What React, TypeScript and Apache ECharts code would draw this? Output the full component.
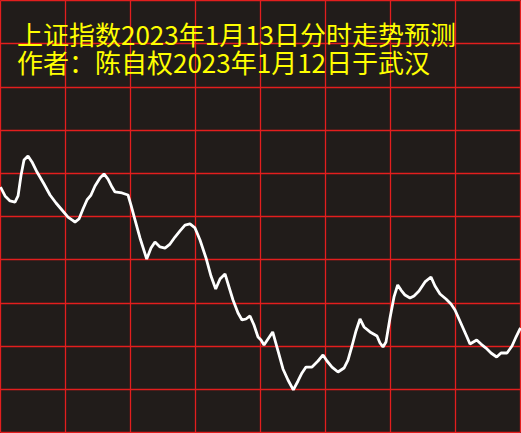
import React, { useEffect, useRef } from "react";
import * as echarts from "echarts";

const titleLine1 = "上证指数2023年1月13日分时走势预测";
const titleLine2 = "作者：陈自权2023年1月12日于武汉";

// minutes since open (0..240)
const minutes = [
  0, 2.1, 4.4, 6.7, 8.1, 9.5, 10.85, 12.69, 14.54, 16.85, 20.08, 22.85, 25.62, 28.38, 31.15, 33.0, 34.38, 36.23, 38.08, 39.92,
  41.77, 43.62, 45.92, 47.77, 49.62, 51.46, 52.85, 56.08, 58.85, 60.23, 62.08, 64.38, 67.48, 69.46, 71.31, 73.62, 75.92, 78.23, 80.54, 82.85,
  85.15, 87.46, 89.77, 92.08, 94.85, 97.15, 99.32, 101.31, 103.62, 105.46, 107.31, 109.62, 111.46, 113.31, 115.15, 117.0, 118.85, 120.23, 121.62, 123.46,
  125.63, 128.08, 130.38, 132.69, 135.14, 137.31, 139.15, 141.0, 143.77, 146.54, 148.85, 150.69, 153.0, 155.77, 158.54, 160.38, 162.23, 164.08, 165.92, 167.77,
  170.54, 173.77, 175.15, 176.54, 177.92, 179.77, 181.62, 183.32, 184.85, 186.69, 189.0, 190.85, 193.15, 195.92, 198.69, 200.54, 202.85, 205.62, 207.92, 209.77,
  211.62, 213.46, 215.31, 216.69, 219.78, 221.77, 224.08, 226.38, 229.0, 231.0, 233.77, 236.08, 237.92, 240,
];

// predicted index level
const prices = [
  3166.73, 3165.9, 3165.44, 3165.34, 3165.9, 3167.84, 3169.23, 3169.6, 3169.05, 3168.12, 3167.01, 3165.99, 3165.25, 3164.6, 3163.95, 3163.68, 3163.49, 3163.77, 3164.69, 3165.53,
  3165.99, 3166.82, 3167.56, 3167.94, 3167.47, 3166.73, 3166.27, 3166.18, 3165.99, 3165.06, 3163.68, 3162.01, 3160.06, 3161.08, 3161.64, 3161.18, 3161.08, 3161.45, 3162.1, 3162.66,
  3163.21, 3163.31, 3162.94, 3161.82, 3160.16, 3158.49, 3157.29, 3158.21, 3158.68, 3157.47, 3156.27, 3155.06, 3154.42, 3154.51, 3154.79, 3153.95, 3152.84, 3152.56, 3152.1, 3152.66,
  3153.31, 3151.55, 3149.88, 3148.86, 3147.94, 3148.77, 3149.51, 3150.06, 3150.06, 3150.62, 3151.18, 3150.62, 3150.06, 3149.6, 3149.97, 3150.71, 3152.01, 3153.4, 3154.51, 3153.77,
  3153.31, 3152.94, 3152.29, 3151.92, 3152.38, 3154.6, 3156.55, 3157.66, 3157.19, 3156.73, 3156.45, 3156.64, 3157.1, 3157.94, 3158.4, 3157.56, 3156.82, 3156.36, 3155.9, 3155.34,
  3154.51, 3153.68, 3152.84, 3152.19, 3152.56, 3152.19, 3151.82, 3151.36, 3150.99, 3151.36, 3151.36, 3152.01, 3152.84, 3153.68,
];

const xMin = 0;
const xMax = 240;
const xInterval = 30;
const yMin = 3144;
const yMax = 3184;
const yInterval = 4;

export default function App() {
  const ref = useRef<HTMLDivElement>(null);
  useEffect(() => {
    if (!ref.current) return;
    const chart = echarts.init(ref.current, undefined, { renderer: "svg" });
    const gridColor = "#e31e1e";
    const textStyle = {
      color: "#ffff00",
      fontSize: 26,
      fontWeight: "normal",
      fontFamily: "Noto Sans CJK SC",
      lineHeight: 26,
    };
    chart.setOption({
      animation: false,
      backgroundColor: "#211c1a",
      title: {
        text: titleLine1,
        subtext: titleLine2,
        left: 17,
        top: 20,
        padding: 0,
        itemGap: 2,
        textStyle,
        subtextStyle: textStyle,
      },
      grid: { left: 0.5, top: 0.5, width: 520, height: 432, containLabel: false },
      xAxis: {
        type: "value",
        min: xMin,
        max: xMax,
        interval: xInterval,
        axisLine: { show: false },
        axisTick: { show: false },
        axisLabel: { show: false },
        splitLine: { show: true, lineStyle: { color: gridColor, width: 1.3 } },
      },
      yAxis: {
        type: "value",
        min: yMin,
        max: yMax,
        interval: yInterval,
        axisLine: { show: false },
        axisTick: { show: false },
        axisLabel: { show: false },
        splitLine: { show: true, lineStyle: { color: gridColor, width: 1.3 } },
      },
      series: [
        {
          type: "line",
          data: minutes.map((m, i) => [m, prices[i]]),
          showSymbol: false,
          lineStyle: { color: "#ffffff", width: 2.8 },
          z: 3,
        },
      ],
    });
    return () => chart.dispose();
  }, []);
  return (
    <div
      ref={ref}
      style={{ position: "fixed", left: 0, top: 0, width: 521, height: 433 }}
    />
  );
}
